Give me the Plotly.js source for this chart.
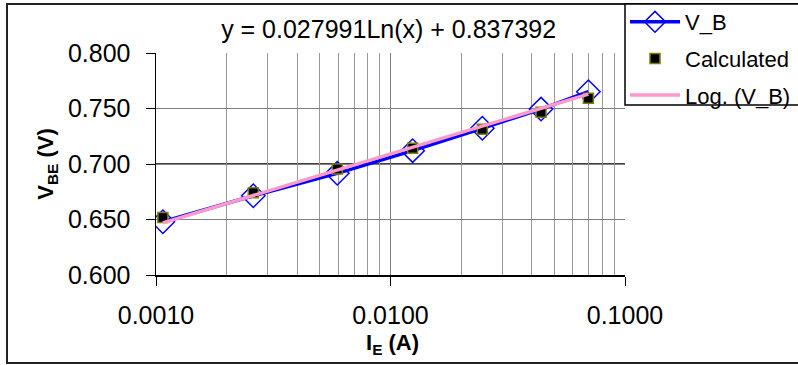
<!DOCTYPE html>
<html>
<head>
<meta charset="utf-8">
<script src="https://cdn.plot.ly/plotly-3.0.1.min.js"></script>
<style>
html,body{margin:0;padding:0;background:#fff;}
#chart{width:798px;height:365px;}
</style>
</head>
<body>
<div id="chart"></div>
<script>
// Data
const ie = [0.00107, 0.0026, 0.00593, 0.01243, 0.02464, 0.04385, 0.0698];
const vbe = [0.648, 0.6714, 0.6916, 0.712, 0.7322, 0.7495, 0.7651];
const vbeCalc = [0.6517, 0.6741, 0.6955, 0.7141, 0.7312, 0.7466, 0.7592];
const trendX = [0.00107, 0.0698];
const trendY = [0.647, 0.763];
const xTickVals = [0.001, 0.01, 0.1];
const xTickText = ["0.0010", "0.0100", "0.1000"];
const yTickVals = [0.6, 0.65, 0.7, 0.75, 0.8];
const yTickText = ["0.600", "0.650", "0.700", "0.750", "0.800"];
const titleText = "y = 0.027991Ln(x) + 0.837392";
const xTitle = "<b>I<sub>E</sub> (A)</b>";
const yTitle = "<b>V<sub>BE</sub> (V)</b>";

const minorVals = [];
[0.001, 0.01].forEach(d => { for (let k = 2; k <= 9; k++) minorVals.push(d * k); });

const FONT = "Liberation Sans, Arial, sans-serif";

const traces = [
  {
    x: ie, y: vbe, name: "V_B", type: "scatter", mode: "lines+markers",
    line: {color: "#0000ff", width: 3.5},
    marker: {symbol: "diamond-open", size: 18, color: "#0000ff", line: {width: 1.5, color: "#0000ff"}},
    legendgroup: "a"
  },
  {
    x: ie, y: vbeCalc, name: "Calculated", type: "scatter", mode: "markers",
    marker: {symbol: "square", size: 10, color: "#000000", line: {width: 1.5, color: "#808000"}},
    legendgroup: "b"
  },
  {
    x: trendX, y: trendY, name: "Log. (V_B)", type: "scatter", mode: "lines",
    line: {color: "#ff99cc", width: 3.5},
    legendgroup: "c"
  }
];

const W = 469, H = 222, L = 156, T = 53;
function px(x) { return (x - L) / W; }
function py(y) { return (T + H - y) / H; }

const layout = {
  width: 798, height: 365,
  margin: {l: L, r: 798 - L - W, t: T, b: 365 - T - H, autoexpand: false},
  paper_bgcolor: "#ffffff", plot_bgcolor: "#ffffff",
  font: {family: FONT, color: "#000000"},
  showlegend: true,
  title: {text: titleText, font: {family: FONT, size: 25, color: "#000"}, x: 0.487, xanchor: "center", y: 1 - 29 / 365, yanchor: "middle"},
  xaxis: {
    type: "log", range: [-3, -1], automargin: false,
    tickvals: xTickVals, ticktext: xTickText,
    ticks: "outside", ticklen: 9, tickcolor: "#000", tickwidth: 1,
    ticklabelstandoff: 8,
    tickfont: {family: FONT, size: 25, color: "#000"},
    showline: true, linecolor: "#000", linewidth: 1.5,
    showgrid: true, gridcolor: "#808080", gridwidth: 1,
    minor: {tickvals: minorVals, showgrid: true, gridcolor: "#999999", gridwidth: 1, ticks: ""},
    zeroline: false
  },
  yaxis: {
    range: [0.6, 0.8], automargin: false,
    tickvals: yTickVals, ticktext: yTickText,
    ticks: "outside", ticklen: 9, tickcolor: "#000", tickwidth: 1,
    ticklabelstandoff: 10,
    tickfont: {family: FONT, size: 25, color: "#000"},
    showline: true, linecolor: "#000", linewidth: 1.5,
    showgrid: true, gridcolor: "#808080", gridwidth: 1,
    zeroline: false,
    title: {text: yTitle, font: {family: FONT, size: 22, color: "#000"}, standoff: 8}
  },
  legend: {
    x: px(625), xanchor: "left", y: py(1), yanchor: "top",
    bgcolor: "rgba(0,0,0,0)", borderwidth: 0,
    font: {family: FONT, size: 22, color: "#000"},
    traceorder: "grouped", tracegroupgap: 5, itemwidth: 50
  },
  annotations: [
    {text: xTitle, xref: "paper", yref: "paper", x: px(392), y: py(344), xanchor: "center", yanchor: "middle",
     showarrow: false, font: {family: FONT, size: 22, color: "#000"}}
  ],
  shapes: [
    {type: "line", xref: "x", yref: "paper", x0: -2, x1: -2, y0: 0, y1: 1, line: {color: "#000", width: 1.5}, layer: "between"},
    {type: "line", xref: "paper", yref: "y", x0: 0, x1: 1, y0: 0.7, y1: 0.7, line: {color: "#000", width: 1.5}, layer: "between"},
    {type: "rect", xref: "paper", yref: "paper", x0: px(7), x1: px(805), y0: py(363), y1: py(4), line: {color: "#222", width: 2}, layer: "below"},
    {type: "rect", xref: "paper", yref: "paper", x0: px(625), x1: px(805), y0: py(105), y1: py(4), line: {color: "#000", width: 1.5}, fillcolor: "#ffffff", layer: "below"}
  ]
};

Plotly.newPlot("chart", traces, layout, {displayModeBar: false, staticPlot: true});
</script>
</body>
</html>
